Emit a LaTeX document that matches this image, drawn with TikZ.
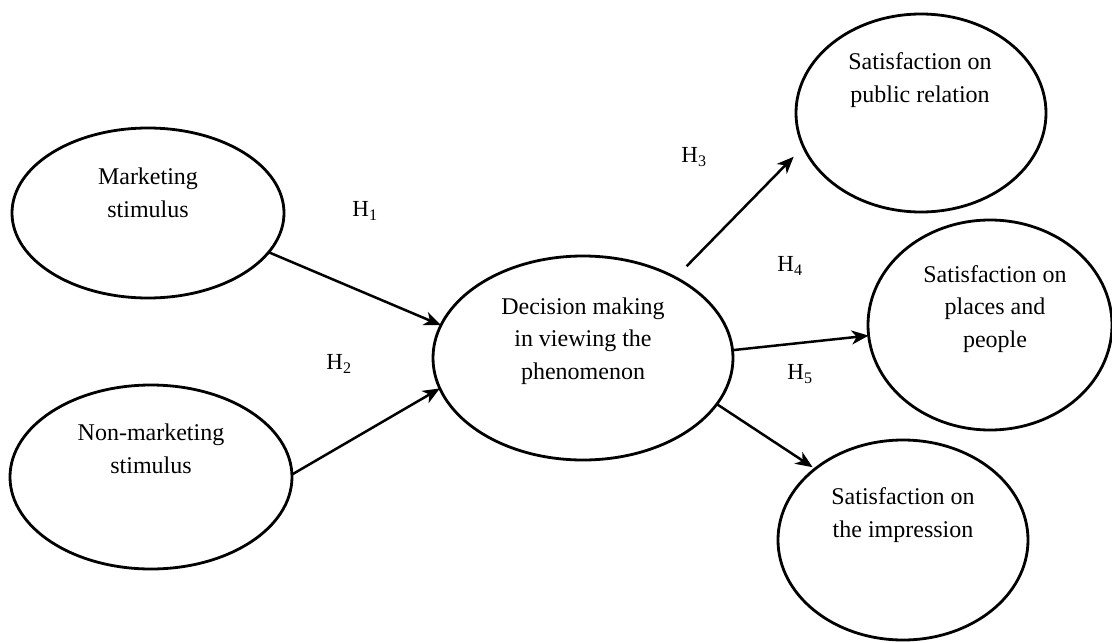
\documentclass[tikz,border=0pt]{standalone}
\usepackage{fontspec}
\setmainfont{Liberation Serif}
\usetikzlibrary{shapes.geometric,arrows.meta}
\begin{document}
\begin{tikzpicture}[x=1pt,y=-1pt,
  ell/.style={draw,ellipse,line width=2.8pt,inner sep=0pt,outer sep=0pt},
  txt/.style={align=center,inner sep=0pt,font=\fontsize{24}{32.5}\selectfont},
  hyp/.style={inner sep=0pt,font=\fontsize{23}{26}\selectfont},
  link/.style={line width=2.5pt,-{Stealth[length=17pt,width=14pt,inset=5pt]}}]
\useasboundingbox (0,0) rectangle (1112,643);
% ellipses
\node[ell,minimum width=272pt,minimum height=170pt] (mkt) at (148,213) {};
\node[ell,minimum width=282pt,minimum height=184pt] (nmk) at (151,477) {};
\node[ell,minimum width=300pt,minimum height=204pt] (dec) at (583,358) {};
\node[ell,minimum width=250pt,minimum height=198pt] (pub) at (921,113) {};
\node[ell,minimum width=244pt,minimum height=210pt] (pla) at (990,325) {};
\node[ell,minimum width=250pt,minimum height=200pt] (imp) at (903,540) {};
% texts
\node[txt] (tmkt) at (148,193) {Marketing\\stimulus};
\node[txt] (tnmk) at (151,449) {Non-marketing\\stimulus};
\node[txt] (tdec) at (583,341) {Decision making\\in viewing the\\phenomenon};
\node[txt] (tpub) at (920,80) {Satisfaction on\\public relation};
\node[txt] (tpla) at (995,309) {Satisfaction on\\places and\\people};
\node[txt] (timp) at (903,515) {Satisfaction on\\the impression};
% hypothesis labels
\node[hyp] (h1) at (365,211) {H\textsubscript{1}};
\node[hyp] (h2) at (339,364) {H\textsubscript{2}};
\node[hyp] (h3) at (694,157) {H\textsubscript{3}};
\node[hyp] (h4) at (790,266) {H\textsubscript{4}};
\node[hyp] (h5) at (800,374) {H\textsubscript{5}};
% connectors
\draw[link] (mkt.-18.7) -- (dec.167.8);
\draw[link] (nmk.1.6) -- (dec.192.7);
\draw[link,shorten <=16pt,shorten >=14pt] (dec.41.2) -- (pub.196.6);
\draw[link] (dec.3.8) -- (pla.185.6);
\draw[link,shorten >=3pt] (dec.-19.2) -- (imp.141);
\end{tikzpicture}
\end{document}
